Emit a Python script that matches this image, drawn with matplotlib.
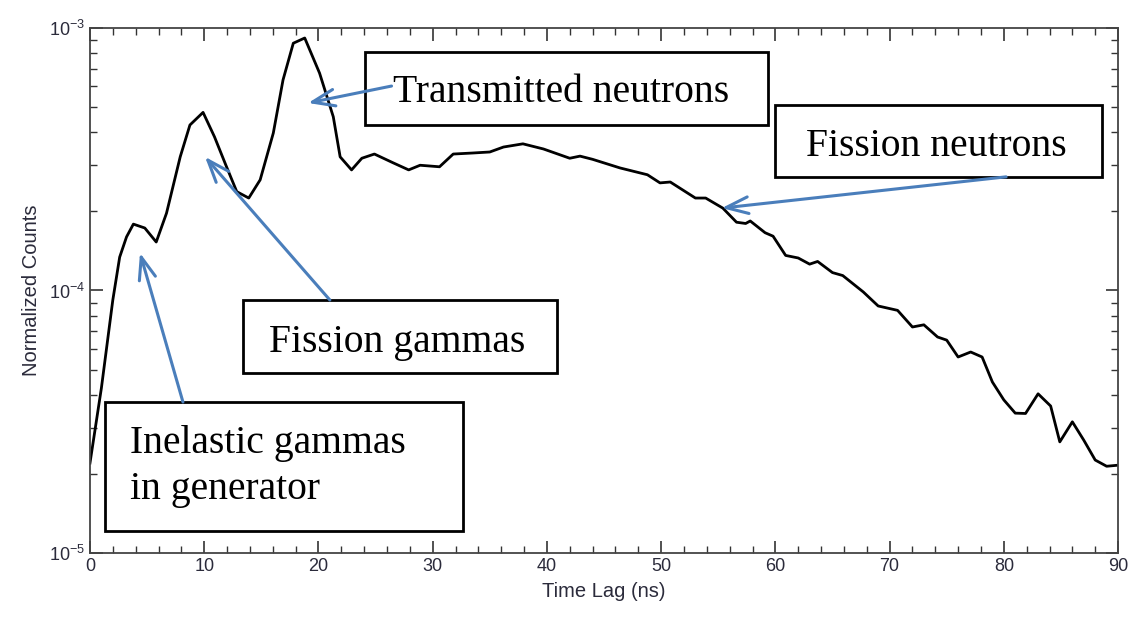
import numpy as np
import matplotlib.pyplot as plt
from matplotlib.patches import Rectangle
from matplotlib.ticker import MultipleLocator, LogLocator

plt.rcParams['font.family'] = 'Liberation Sans'
plt.rcParams['mathtext.default'] = 'regular'

# time lag (ns) and normalized counts
lag = [0.0, 1.0, 2.0, 2.6, 3.2, 3.8, 4.8, 5.8, 6.7, 7.9, 8.75, 9.9, 10.9,
       11.9, 12.85, 13.9, 14.9, 16.05, 16.9, 17.8, 18.8, 20.1, 21.3, 21.9,
       22.9, 23.8, 24.9, 26.5, 27.9, 28.9, 30.6, 31.8, 33.5, 35.0, 36.2,
       37.9, 39.7, 42.0, 42.9, 44.0, 46.4, 48.8, 49.9, 50.8, 53.0, 53.9,
       55.4, 56.6, 57.4, 57.8, 59.1, 59.8, 60.9, 62.0, 63.0, 63.7, 65.0,
       65.9, 67.7, 69.0, 70.7, 72.0, 73.0, 74.2, 75.0, 76.0, 77.1, 78.1,
       79.0, 80.0, 81.0, 81.9, 83.0, 84.1, 84.9, 86.0, 87.0, 88.0, 89.0, 90.0]
counts = [2.2e-5, 4.25e-5, 9.2e-5, 1.34e-4, 1.6e-4, 1.79e-4, 1.73e-4,
          1.53e-4, 1.97e-4, 3.23e-4, 4.27e-4, 4.77e-4, 3.85e-4, 3.0e-4,
          2.38e-4, 2.25e-4, 2.64e-4, 3.98e-4, 6.34e-4, 8.75e-4, 9.16e-4,
          6.73e-4, 4.59e-4, 3.23e-4, 2.88e-4, 3.19e-4, 3.31e-4, 3.07e-4,
          2.88e-4, 3.0e-4, 2.96e-4, 3.31e-4, 3.34e-4, 3.37e-4, 3.52e-4,
          3.62e-4, 3.46e-4, 3.19e-4, 3.25e-4, 3.16e-4, 2.93e-4, 2.76e-4,
          2.57e-4, 2.59e-4, 2.25e-4, 2.25e-4, 2.06e-4, 1.82e-4, 1.80e-4,
          1.84e-4, 1.66e-4, 1.61e-4, 1.36e-4, 1.33e-4, 1.26e-4, 1.29e-4,
          1.17e-4, 1.14e-4, 9.87e-5, 8.73e-5, 8.4e-5, 7.26e-5, 7.4e-5,
          6.65e-5, 6.47e-5, 5.58e-5, 5.83e-5, 5.58e-5, 4.48e-5, 3.83e-5,
          3.41e-5, 3.4e-5, 4.04e-5, 3.63e-5, 2.65e-5, 3.16e-5, 2.69e-5,
          2.26e-5, 2.14e-5, 2.16e-5]

# callouts: text, box (axes fraction x0, y0, x1, y1), text anchor,
# arrow start and arrow tip in data coordinates
labels = ['Transmitted neutrons', 'Fission neutrons', 'Fission gammas',
          'Inelastic gammas\nin generator']
boxes = [(0.2675, 0.815, 0.6595, 0.954), (0.666, 0.716, 0.984, 0.853),
         (0.149, 0.343, 0.454, 0.482), (0.0146, 0.042, 0.363, 0.288)]
text_pos = [(0.458, 0.877, 'center'), (0.823, 0.775, 'center'),
            (0.299, 0.401, 'center'), (0.039, 0.165, 'left')]
arrow_from = [(26.4, 6.01e-4), (80.2, 2.71e-4), (21.0, 9.2e-5), (8.14, 3.76e-5)]
arrow_to = [(19.1, 5.18e-4), (55.3, 2.06e-4), (10.07, 3.23e-4), (4.38, 1.39e-4)]

fig = plt.figure(figsize=(11.36, 6.18), dpi=100)
ax = fig.add_axes([0.0792, 0.1052, 0.905, 0.8495])

ax.plot(lag, counts, color='black', lw=2)
ax.set_yscale('log')
ax.set_xlim(0, 90)
ax.set_ylim(1e-5, 1e-3)

ax.xaxis.set_major_locator(MultipleLocator(10))
ax.xaxis.set_minor_locator(MultipleLocator(2))
ax.yaxis.set_major_locator(LogLocator(base=10, numticks=5))
ax.yaxis.set_minor_locator(LogLocator(base=10, subs=np.arange(2, 10), numticks=20))
ax.tick_params(which='both', direction='in', top=True, right=True,
               labelsize=13, labelcolor='#2b2b3b', color='#333333')
ax.tick_params(which='major', length=9, width=1.2)
ax.tick_params(which='minor', length=5, width=1)
for sp in ax.spines.values():
    sp.set_linewidth(1.3)
    sp.set_color('#444444')

ax.set_xlabel('Time Lag (ns)', fontsize=14.5, color='#2b2b3b', labelpad=5)
ax.set_ylabel('Normalized Counts', fontsize=14.5, color='#2b2b3b', labelpad=6)

for txt, b, (tx, ty, ha), p0, p1 in zip(labels, boxes, text_pos, arrow_from, arrow_to):
    ax.add_patch(Rectangle((b[0], b[1]), b[2] - b[0], b[3] - b[1],
                           transform=ax.transAxes, facecolor='white',
                           edgecolor='black', lw=2, zorder=3))
    ax.text(tx, ty, txt, transform=ax.transAxes, ha=ha, va='center',
            family='Liberation Serif', fontsize=28.5, linespacing=1.3, zorder=4)
    ax.annotate('', xy=p1, xytext=p0,
                arrowprops=dict(arrowstyle='->,head_length=1.6,head_width=0.6',
                                color='#4a7ebb', lw=2.2, shrinkA=0, shrinkB=0),
                zorder=5)

fig.savefig('out.png', dpi=100)
